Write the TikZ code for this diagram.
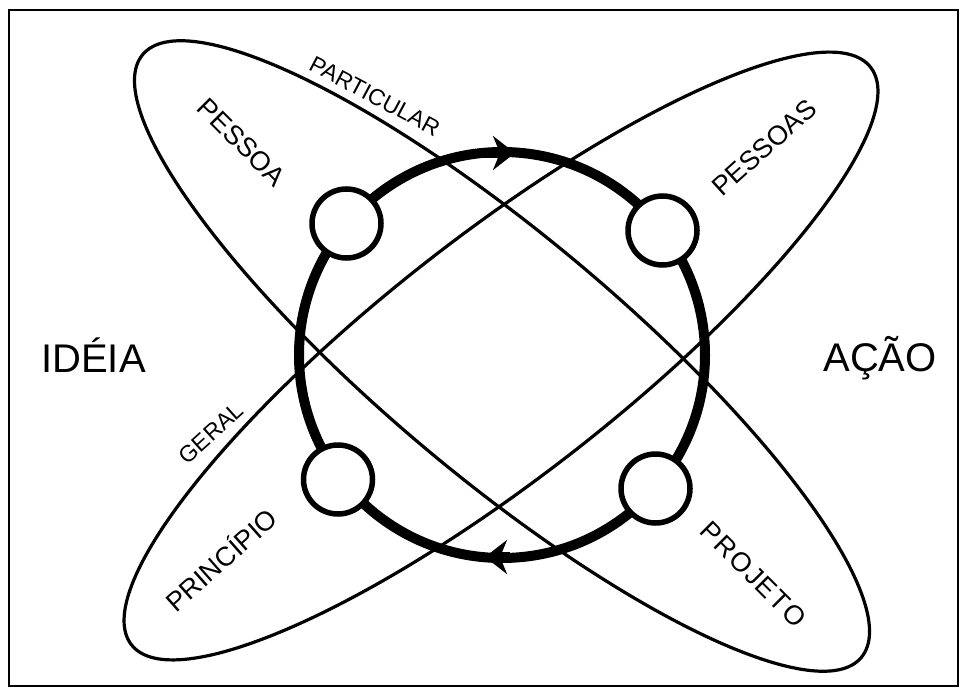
\documentclass[tikz,border=0pt]{standalone}
\usepackage{fontspec}
\newfontfamily\lblfont{Liberation Sans}
\newfontfamily\lblwide[LetterSpace=6]{Liberation Sans}
\usetikzlibrary{arrows.meta}
\begin{document}
\begin{tikzpicture}[x=1pt,y=-1pt,
  ring/.style={line width=10pt},
  orbit/.style={line width=3.2pt},
  knot/.style={circle, draw, line width=5.5pt, fill=white, minimum size=69pt, inner sep=0pt},
  lbl/.style={font=\lblfont\fontsize{27}{27}\selectfont, inner sep=0pt, text height=19.3pt, text depth=0pt},
  small/.style={font=\lblfont\fontsize{23}{23}\selectfont, inner sep=0pt, text height=16.5pt, text depth=0pt},
  big/.style={font=\lblfont\fontsize{40}{40}\selectfont, inner sep=0pt, text height=29pt, text depth=0pt},
  tip/.style={-{Stealth[length=22pt,width=34pt,inset=7pt]}}]
\useasboundingbox (0,0) rectangle (966,693);
\draw[line width=2pt] (9,10.5) rectangle (957.5,685.5);
\coordinate (C) at (502,355);
\coordinate (E1) at (502,356);
\coordinate (E2) at (501,356);
% orbits
\draw[orbit, rotate around={-40:(E1)}] (E1) ellipse [x radius=469pt, y radius=120pt];
\draw[orbit, rotate around={38:(E2)}] (E2) ellipse [x radius=469pt, y radius=120pt];
% main ring
\draw[ring] (C) circle [radius=203pt];
\coordinate (a1) at (482,153);
\coordinate (a2) at (515,153);
\coordinate (b1) at (510,557);
\coordinate (b2) at (485,557);
\draw[ring, tip] (a1) -- (a2);
\draw[ring, tip] (b1) -- (b2);
% knots
\node[knot] (k1) at (346.5,223.5) {};
\node[knot] (k2) at (662.5,230.5) {};
\node[knot] (k3) at (338,479.5) {};
\node[knot] (k4) at (655.5,488.5) {};
% labels
\node[big] (idea) at (93.5,358) {IDÉIA};
\node[big] (acao) at (880,356.5) {AÇÃO};
\node[small, rotate=-28] (part) at (375,96) {PARTICULAR};
\node[lbl, rotate=-45] (pessoa) at (242,142) {PESSOA};
\node[lbl, rotate=42] (pessoas) at (764,147) {PESSOAS};
\node[small, rotate=42] (geral) at (211,433) {GERAL};
\node[lbl, rotate=41.5] (princ) at (221.5,560.5) {PRINCÍPIO};
\node[lbl, rotate=-45, font=\lblwide\fontsize{27}{27}\selectfont] (proj) at (753.5,574) {PROJETO};
\end{tikzpicture}
\end{document}
